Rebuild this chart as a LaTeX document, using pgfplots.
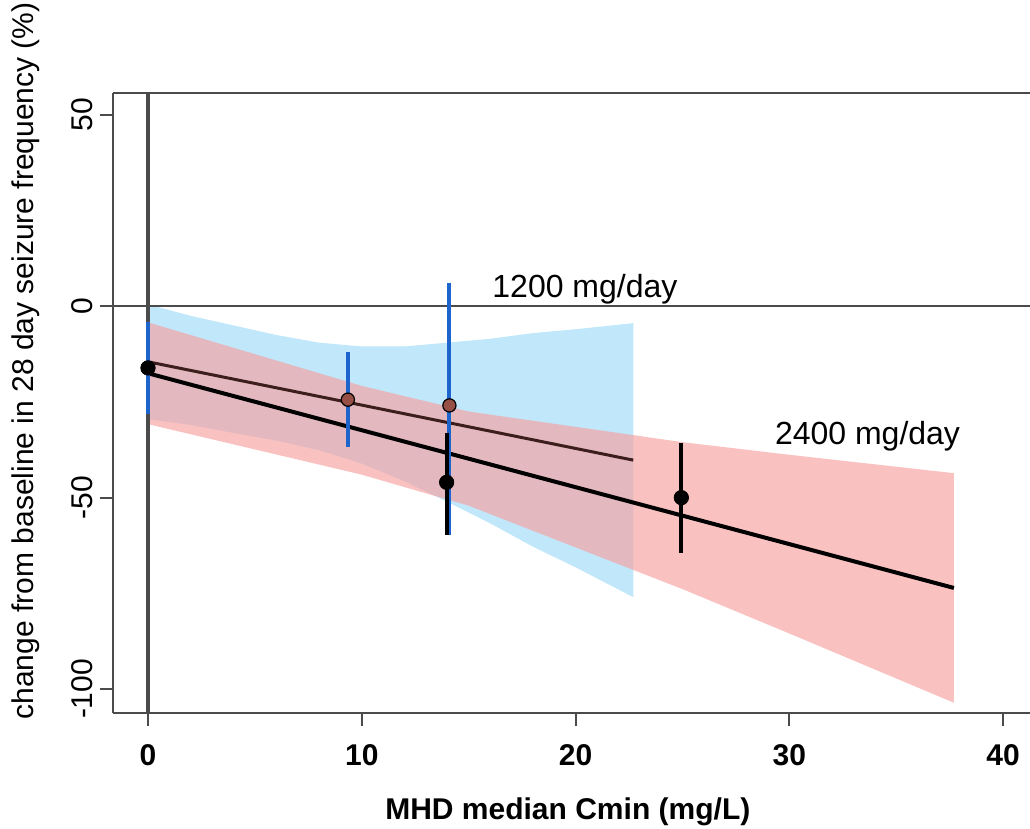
\documentclass[border=0pt]{standalone}
\usepackage{pgfplots}
\pgfplotsset{compat=1.18}
\usepackage{fontspec}
\setmainfont{Liberation Sans}

\definecolor{bandblue}{RGB}{192,231,250}
\definecolor{bandred}{RGB}{248,160,160}
\definecolor{barblue}{RGB}{30,100,205}
\definecolor{axisgray}{RGB}{75,75,75}
\definecolor{line1200}{RGB}{60,30,28}
\definecolor{pt1200}{RGB}{150,80,70}

\newcommand{\txt}{\fontsize{15bp}{18bp}\selectfont}

\begin{document}
\begin{tikzpicture}
\useasboundingbox (-56.5bp,-58bp) rectangle (458.5bp,356.5bp);
\begin{axis}[
    at={(0,0)}, anchor=south west,
    scale only axis,
    width=458.5bp, height=310bp,
    xmin=-1.637, xmax=41.26,
    ymin=-106.28, ymax=55.74,
    axis x line*=bottom, axis y line*=left,
    axis line style={draw=axisgray, line width=1.1bp},
    xtick={0,10,20,30,40},
    ytick={-100,-50,0,50},
    tick align=outside,
    major tick length=6.5bp,
    tick style={draw=axisgray, line width=1bp},
    /pgf/number format/assume math mode=true,
    xticklabel style={font=\bfseries\txt, yshift=-6bp},
    yticklabel style={font=\txt, rotate=90, anchor=south},
    xlabel={MHD median Cmin (mg/L)},
    xlabel style={font=\bfseries\txt, at={(axis description cs:0.496,-0.171)}, anchor=base},
    ylabel={change from baseline in 28 day seizure frequency (\%)},
    ylabel style={font=\txt, at={(axis description cs:-0.0872,0.568)}, anchor=base, rotate=0},
]

% 1200 mg/day confidence band
\addplot[draw=none, fill=bandblue] coordinates {
    (0,0.5) (2,-2.5) (4,-5) (6,-7.5) (8,-9.5) (10,-10.5) (12,-10.5)
    (14,-9.5) (16,-8.5) (18,-7) (20,-6) (22.7,-4.4)
    (22.7,-76.0) (20,-68.2) (18,-62.8) (16,-56.7) (14,-51.1) (12,-45.7)
    (10,-41.1) (8,-37.6) (6,-35.1) (4,-33.1) (2,-31.0) (0,-29.5)
} -- cycle;

% 2400 mg/day confidence band
\addplot[draw=none, fill=bandred, fill opacity=0.65] coordinates {
    (0,-4.2) (5,-12.5) (10,-20.8) (15,-27.5) (20,-31.5) (25,-35.5)
    (30,-38.8) (37.7,-43.6)
    (37.7,-103.6) (30,-85.5) (25,-73.9) (20,-63.0) (15,-52.1)
    (10,-44.0) (5,-37.4) (0,-30.8)
} -- cycle;

% reference lines
\addplot[axisgray, line width=1bp] coordinates {(-1.637,0) (41.26,0)};
\addplot[axisgray, line width=1.6bp] coordinates {(0,-106.28) (0,55.74)};

% fitted lines
\addplot[line1200, line width=1.5bp] coordinates {(0,-14.5) (22.7,-40.2)};
\addplot[black, line width=2bp] coordinates {(0,-17.5) (37.7,-73.6)};

% 1200 mg/day observations
\addplot[only marks, mark=*, mark size=3.3bp,
    mark options={fill=pt1200, draw=black, line width=0.6bp},
    error bars/.cd, y dir=both, y explicit, error mark=none,
    error bar style={barblue, line width=2bp}]
    coordinates {
    (0,-16.1) +- (0,12)
    (9.35,-24.4) +- (0,12.4)
    (14.1,-25.9) += (0,31.9) -= (0,33.9)
};

% 2400 mg/day observations
\addplot[only marks, mark=*, mark size=3.6bp,
    mark options={fill=black, draw=black},
    error bars/.cd, y dir=both, y explicit, error mark=none,
    error bar style={black, line width=2bp}]
    coordinates {
    (0,-16.1) +- (0,0)
    (13.97,-46) += (0,12.8) -= (0,13.8)
    (24.95,-50) += (0,14.2) -= (0,14.5)
};

\draw[axisgray, line width=1.1bp] (rel axis cs:0,1) -- (rel axis cs:1,1);

\node[font=\fontsize{16bp}{19bp}\selectfont, anchor=base] at (axis cs:20.44,2.2) {1200 mg/day};
\node[font=\fontsize{16bp}{19bp}\selectfont, anchor=base] at (axis cs:33.66,-36.2) {2400 mg/day};
\end{axis}
\end{tikzpicture}
\end{document}
